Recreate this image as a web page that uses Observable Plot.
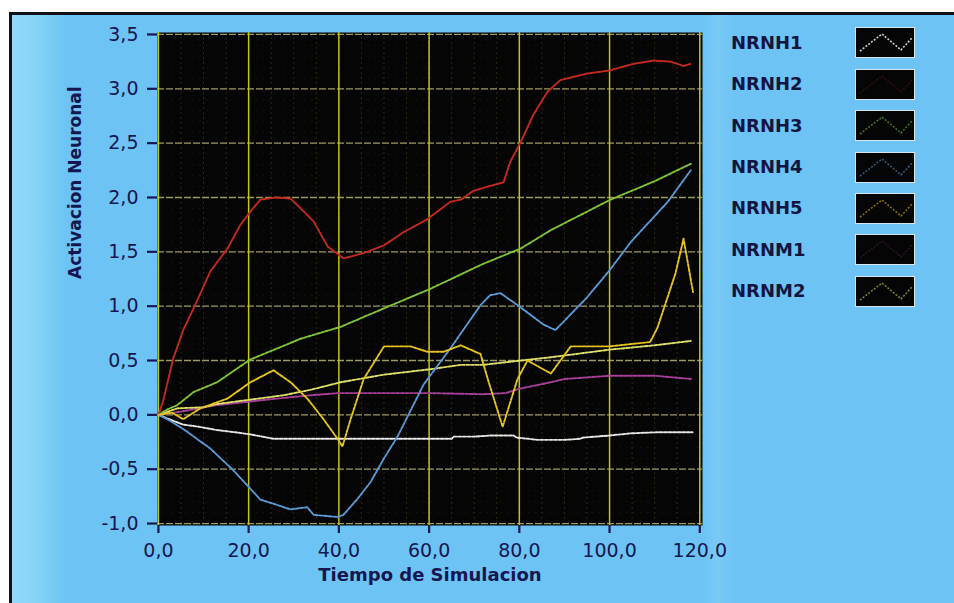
<!DOCTYPE html>
<html>
<head>
<meta charset="utf-8">
<script src="https://cdn.jsdelivr.net/npm/d3@7"></script>
<script src="https://cdn.jsdelivr.net/npm/@observablehq/plot@0.6"></script>
<style>
  html, body { margin: 0; padding: 0; background: #ffffff; }
  #page { position: relative; width: 954px; height: 603px; overflow: hidden; background: #ffffff; font-family: "DejaVu Sans", sans-serif; }
  #panel { position: absolute; left: 9px; top: 12px; width: 945px; height: 591px; box-sizing: border-box;
           border-left: 3px solid #101018; border-top: 3px solid #101018;
           background: linear-gradient(to right, #92d9fa 0px, #86d3f8 25px, #6cc3f4 55px, #6cc3f4 690px, #79c9f5 705px, #6cc3f4 725px, #6cc3f4 100%); }
  #chart { position: absolute; left: 0; top: 0; }
  #legend { position: absolute; left: 0; top: 0; width: 954px; height: 603px; pointer-events: none; }
  .lab { position: absolute; left: 731px; font-weight: bold; font-size: 18px; color: #141440; line-height: 20px; }
  .sw { position: absolute; left: 855px; width: 60px; height: 31px; box-sizing: border-box; background: #050505; border: 1.5px solid #d8e6f0; }
</style>
</head>
<body>
<div id="page">
  <div id="panel"></div>
  <div id="chart"></div>
  <div id="legend"></div>
</div>
<script>
// ---- data ----
const seriesNames = ["NRNH1", "NRNH2", "NRNH3", "NRNH4", "NRNH5", "NRNM1", "NRNM2"];
const seriesColors = ["#e6e6e6", "#c42a1e", "#82c43a", "#5a9ad6", "#e8c41e", "#a8409a", "#dede6a"];

const nrnh1T = [0, 3, 5.5, 9, 13, 17, 20.4, 23, 25.5, 30, 40, 50, 60, 65, 65.5, 70, 73.6, 78.7, 79.5, 82, 84, 90, 93.6, 94, 100, 104.7, 110.6, 118.4];
const nrnh1V = [0, -0.05, -0.09, -0.11, -0.14, -0.16, -0.18, -0.2, -0.22, -0.22, -0.22, -0.22, -0.22, -0.22, -0.2, -0.2, -0.19, -0.19, -0.21, -0.22, -0.23, -0.23, -0.22, -0.21, -0.19, -0.17, -0.16, -0.16];

const nrnh2T = [0, 1, 3.3, 5.5, 7.8, 11.5, 15.3, 18.2, 20.4, 22.6, 26, 29.3, 30.8, 34.4, 37.5, 41, 43, 46.3, 50, 54.3, 59.6, 64.7, 67, 69.8, 73, 76.5, 78, 80.3, 83.1, 86.2, 89.1, 95, 100.2, 105.3, 109.8, 113.5, 116.4, 118];
const nrnh2V = [0, 0.12, 0.52, 0.78, 0.98, 1.32, 1.53, 1.75, 1.87, 1.98, 2.0, 1.99, 1.93, 1.78, 1.55, 1.44, 1.46, 1.5, 1.56, 1.68, 1.8, 1.96, 1.98, 2.06, 2.1, 2.14, 2.33, 2.51, 2.76, 2.97, 3.08, 3.14, 3.17, 3.23, 3.26, 3.25, 3.21, 3.23];

const nrnh3T = [0, 2, 4.2, 7.8, 13, 20.4, 31.5, 40.4, 50, 60.3, 72, 80.3, 87, 100.2, 110, 118];
const nrnh3V = [0, 0.05, 0.09, 0.21, 0.3, 0.51, 0.7, 0.81, 0.98, 1.16, 1.39, 1.53, 1.7, 1.98, 2.15, 2.31];

const nrnh4T = [0, 2, 5.5, 11.5, 16.6, 20.4, 22.6, 26.4, 29.3, 31, 33, 34.4, 39.7, 41, 44, 47, 50, 53, 58.8, 64.7, 71.4, 73.5, 75.8, 79.6, 85.4, 88, 95, 100, 104.7, 112.9, 118];
const nrnh4V = [0, -0.04, -0.13, -0.31, -0.51, -0.68, -0.78, -0.83, -0.87, -0.86, -0.85, -0.92, -0.94, -0.92, -0.78, -0.62, -0.4, -0.2, 0.28, 0.61, 1.01, 1.1, 1.12, 1.01, 0.83, 0.78, 1.08, 1.33, 1.59, 1.96, 2.25];

const nrnh5T = [0, 3, 5.5, 9.3, 15.3, 20.4, 25.5, 29.3, 33, 36.6, 39.7, 40.8, 42.6, 45.5, 50, 55.9, 59.6, 63.2, 67, 71.4, 73, 76.3, 79.6, 81.8, 87, 91.4, 100, 109, 110.6, 114.6, 116.4, 118.5];
const nrnh5V = [0, 0.02, -0.04, 0.06, 0.15, 0.3, 0.41, 0.3, 0.15, -0.04, -0.22, -0.29, -0.04, 0.33, 0.63, 0.63, 0.58, 0.58, 0.64, 0.56, 0.33, -0.11, 0.33, 0.5, 0.38, 0.63, 0.63, 0.67, 0.8, 1.3, 1.62, 1.13];

const nrnm1T = [0, 5, 13, 24, 33.7, 39.7, 50, 60, 72, 77, 80, 87, 90, 100, 110, 118];
const nrnm1V = [0, 0.03, 0.09, 0.14, 0.18, 0.2, 0.2, 0.2, 0.19, 0.2, 0.24, 0.3, 0.33, 0.36, 0.36, 0.33];

const nrnm2T = [0, 4.2, 10, 13, 20.4, 27.7, 33.7, 40.4, 50, 60.3, 67, 72, 80.3, 87, 100, 110, 118];
const nrnm2V = [0, 0.06, 0.07, 0.1, 0.14, 0.18, 0.23, 0.3, 0.37, 0.42, 0.46, 0.46, 0.5, 0.53, 0.6, 0.64, 0.68];

const xTicks = [0, 20, 40, 60, 80, 100, 120];
const yTicks = [-1, -0.5, 0, 0.5, 1, 1.5, 2, 2.5, 3, 3.5];
const xMinor = d3.range(0, 121, 5);
const yMinor = d3.range(-10, 36, 1).map(d => d / 10);

const xTitle = "Tiempo de Simulacion";
const yTitle = "Activacion Neuronal";

// ---- build table ----
const seriesT = [nrnh1T, nrnh2T, nrnh3T, nrnh4T, nrnh5T, nrnm1T, nrnm2T];
const seriesV = [nrnh1V, nrnh2V, nrnh3V, nrnh4V, nrnh5V, nrnm1V, nrnm2V];
const rows = [];
seriesNames.forEach((name, i) => {
  seriesT[i].forEach((t, j) => rows.push({ serie: name, t, v: seriesV[i][j] }));
});
const drawOrder = ["NRNM1", "NRNH1", "NRNM2", "NRNH3", "NRNH4", "NRNH2", "NRNH5"];

const fmt = d => d.toFixed(1).replace(".", ",");
const navy = "#161650";
const font = "'DejaVu Sans', sans-serif";

const chart = Plot.plot({
  width: 954,
  height: 603,
  marginLeft: 157,
  marginRight: 252,
  marginTop: 32,
  marginBottom: 78,
  style: { background: "transparent", color: navy, fontFamily: font },
  x: { domain: [-0.2, 120.6] },
  y: { domain: [-1.018, 3.518] },
  marks: [
    Plot.frame({ fill: "#050505", stroke: "none" }),
    Plot.ruleX(xMinor, { stroke: "#3c3c12", strokeWidth: 1, strokeDasharray: "2,3", strokeOpacity: 0.7 }),
    Plot.ruleY(yMinor, { stroke: "#262612", strokeWidth: 1, strokeDasharray: "2,5", strokeOpacity: 0.45 }),
    Plot.ruleY(yTicks, { stroke: "#9c9a66", strokeWidth: 1.3, strokeDasharray: "7,2" }),
    Plot.ruleX(xTicks, { stroke: "#c4c21e", strokeWidth: 1.5 }),
    ...drawOrder.map(name => {
      const i = seriesNames.indexOf(name);
      return Plot.line(rows.filter(r => r.serie === name), {
        x: "t", y: "v",
        stroke: seriesColors[i],
        strokeWidth: 1.9,
        strokeDasharray: name === "NRNH2" ? "3,1" : "3,1.6"
      });
    }),
    Plot.axisX(xTicks, { tickFormat: fmt, tickSize: 8, tickPadding: 10, fontSize: 19, strokeWidth: 2.2, stroke: navy, label: null }),
    Plot.axisY(yTicks, { tickFormat: fmt, tickSize: 10, tickPadding: 9, fontSize: 19, strokeWidth: 2.2, stroke: navy, label: null }),
    Plot.text([xTitle], { frameAnchor: "bottom", dy: 55, fontSize: 18, fontWeight: "bold", fill: navy, fontFamily: font }),
    Plot.text([yTitle], { frameAnchor: "left", dx: -82, rotate: -90, fontSize: 17, fontWeight: "bold", fill: navy, fontFamily: font })
  ]
});
document.getElementById("chart").appendChild(chart);

// ---- legend ----
const legend = document.getElementById("legend");
const rowTop0 = 27.3, rowStep = 41.4;
const zig = [[4, 23], [26, 6], [45, 22], [56, 10]];
seriesNames.forEach((name, i) => {
  const top = rowTop0 + i * rowStep;
  const lab = document.createElement("div");
  lab.className = "lab";
  lab.textContent = name;
  lab.style.top = (top + 15.5 - 10) + "px";
  legend.appendChild(lab);
  const sw = document.createElement("div");
  sw.className = "sw";
  sw.style.top = top + "px";
  const ns = "http://www.w3.org/2000/svg";
  const svg = document.createElementNS(ns, "svg");
  svg.setAttribute("width", "57");
  svg.setAttribute("height", "28");
  svg.style.display = "block";
  const pl = document.createElementNS(ns, "polyline");
  pl.setAttribute("points", zig.map(p => p.join(",")).join(" "));
  pl.setAttribute("fill", "none");
  pl.setAttribute("stroke", seriesColors[i]);
  pl.setAttribute("stroke-width", "1.6");
  pl.setAttribute("stroke-dasharray", "2,1.5");
  pl.setAttribute("stroke-opacity", name === "NRNH1" ? "0.9" : (name === "NRNH2" || name === "NRNM1" ? "0.25" : "0.55"));
  svg.appendChild(pl);
  sw.appendChild(svg);
  legend.appendChild(sw);
});
</script>
</body>
</html>
